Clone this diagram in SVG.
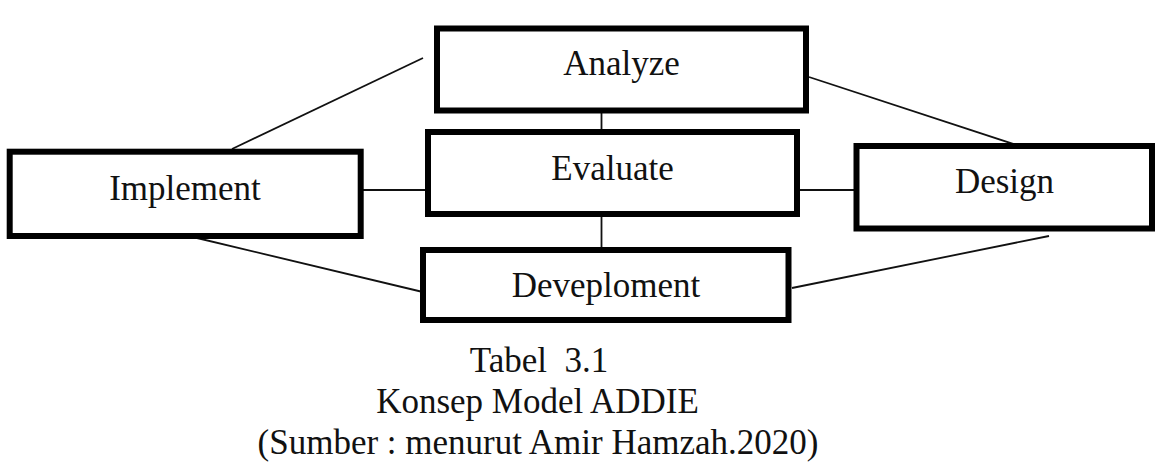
<svg xmlns="http://www.w3.org/2000/svg" width="1169" height="464" viewBox="0 0 1169 464">
<style>
.box{fill:#fff;stroke:#000;stroke-width:6}
.lbl{font-family:"Liberation Serif","Times New Roman",serif;font-size:35px;fill:#111;text-anchor:middle}
.conn line{stroke:#111;stroke-width:1.8}
.cap{font-family:"Liberation Serif","Times New Roman",serif;font-size:35px;fill:#111;text-anchor:middle}
</style>
<rect width="1169" height="464" fill="#fff"/>
<g id="connectors" class="conn">
<line x1="232" y1="149" x2="423" y2="58"/>
<line x1="809" y1="77" x2="1038" y2="152"/>
<line x1="352" y1="190" x2="425" y2="190"/>
<line x1="797" y1="190" x2="856" y2="190"/>
<line x1="601.5" y1="110" x2="601.5" y2="145"/>
<line x1="601.5" y1="214" x2="601.5" y2="255"/>
<line x1="197" y1="238" x2="427" y2="293"/>
<line x1="792" y1="288" x2="1049" y2="236"/>
</g>
<g id="analyze"><rect class="box" x="437" y="28.5" width="369" height="82"/><text class="lbl" x="621.5" y="75">Analyze</text></g>
<g id="evaluate"><rect class="box" x="428" y="132" width="369" height="82"/><text class="lbl" x="612.5" y="180">Evaluate</text></g>
<g id="implement"><rect class="box" x="9.7" y="151.7" width="351" height="84.3"/><text class="lbl" x="185" y="200">Implement</text></g>
<g id="design"><rect class="box" x="856.5" y="146" width="295.5" height="82.5"/><text class="lbl" x="1004.5" y="193">Design</text></g>
<g id="deveploment"><rect class="box" x="423" y="250" width="365.5" height="70"/><text class="lbl" x="606" y="296.5">Deveploment</text></g>
<g id="caption">
<text class="cap" x="539" y="371.5" xml:space="preserve">Tabel  3.1</text>
<text class="cap" x="537.5" y="413">Konsep Model ADDIE</text>
<text class="cap" x="538" y="454">(Sumber : menurut Amir Hamzah.2020)</text>
</g>
</svg>
